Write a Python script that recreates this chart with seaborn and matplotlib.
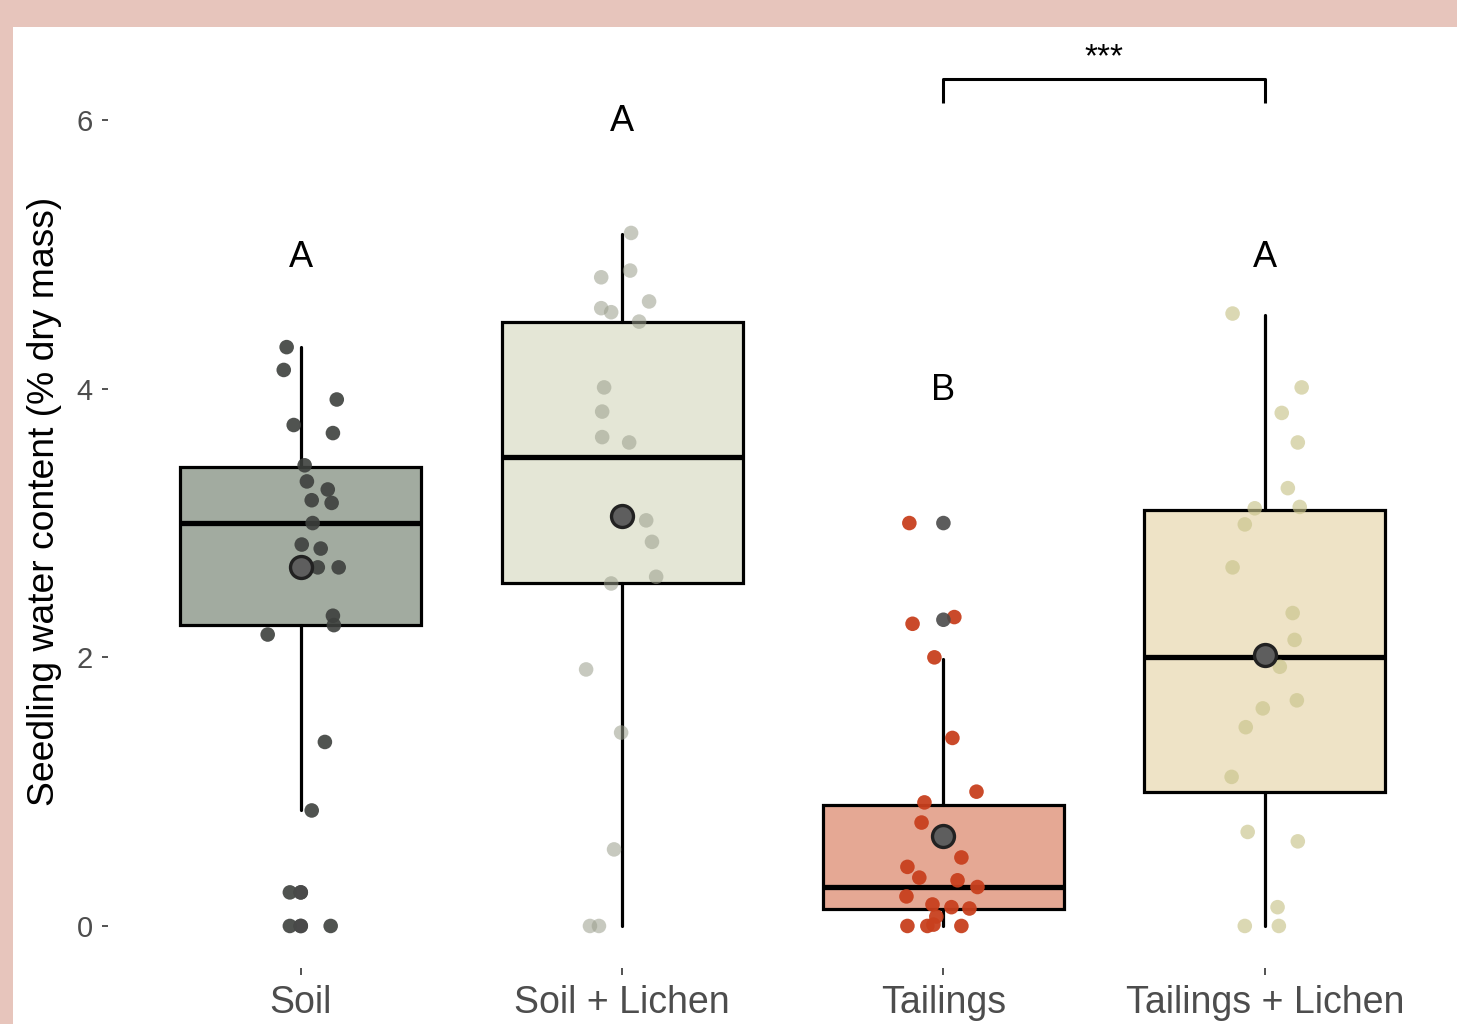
import numpy as np
import pandas as pd
import matplotlib
matplotlib.use("Agg")
import matplotlib.pyplot as plt
from matplotlib.patches import Rectangle
import seaborn as sns

# ---- data -------------------------------------------------------------
groups = ["Soil", "Soil + Lichen", "Tailings", "Tailings + Lichen"]

soil_vals = [4.31, 4.14, 3.92, 3.73, 3.67, 3.43, 3.31, 3.25, 3.17, 3.15, 3.00,
             2.84, 2.81, 2.67, 2.67, 2.67, 2.31, 2.24, 2.17, 1.37, 0.86,
             0.25, 0.25, 0.0, 0.0, 0.0]
soil_jit = [-0.044, -0.053, 0.112, -0.022, 0.100, 0.012, 0.019, 0.084, 0.034,
            0.096, 0.037, 0.003, 0.062, 0.053, 0.118, -0.003, 0.100, 0.103,
            -0.103, 0.075, 0.034, -0.034, 0.0, -0.034, 0.0, 0.093]

soil_lichen_vals = [5.16, 4.83, 4.88, 4.65, 4.60, 4.57, 4.50, 4.01, 3.83, 3.64,
                    3.60, 3.02, 2.86, 2.55, 2.60, 1.91, 1.44, 0.57, 0.0, 0.0]
soil_lichen_jit = [0.028, -0.065, 0.025, 0.084, -0.065, -0.034, 0.053, -0.056,
                   -0.062, -0.062, 0.022, 0.075, 0.093, -0.034, 0.106, -0.112,
                   -0.003, -0.025, -0.100, -0.072]

tailings_vals = [3.00, 2.25, 2.30, 2.00, 1.40, 1.00, 0.92, 0.77, 0.51, 0.44,
                 0.34, 0.36, 0.29, 0.22, 0.16, 0.14, 0.13, 0.07, 0.0, 0.0,
                 0.01, 0.0]
tailings_jit = [-0.106, -0.096, 0.034, -0.028, 0.028, 0.103, -0.059, -0.068,
                0.056, -0.112, 0.044, -0.075, 0.106, -0.115, -0.034, 0.025,
                0.081, -0.022, -0.112, -0.050, -0.031, 0.056]

tailings_lichen_vals = [4.56, 4.01, 3.82, 3.60, 3.26, 3.12, 3.11, 2.99, 2.67,
                        2.33, 2.13, 1.93, 1.68, 1.62, 1.48, 1.11, 0.70, 0.63,
                        0.14, 0.0, 0.0]
tailings_lichen_jit = [-0.100, 0.115, 0.053, 0.103, 0.072, 0.109, -0.031,
                       -0.062, -0.100, 0.087, 0.093, 0.047, 0.100, -0.006,
                       -0.059, -0.103, -0.053, 0.103, 0.040, -0.062, 0.044]

# boxplot outliers (drawn at the group centre)
outlier_group = ["Soil", "Soil", "Tailings", "Tailings"]
outlier_vals = [0.25, 0.0, 3.00, 2.28]

# box statistics per group
whisker_low = [0.86, 0.00, 0.00, 0.00]
q1 = [2.24, 2.55, 0.13, 1.00]
median = [3.00, 3.49, 0.29, 2.00]
q3 = [3.42, 4.50, 0.90, 3.10]
whisker_high = [4.31, 5.15, 1.99, 4.55]

group_means = [2.67, 3.05, 0.67, 2.02]

letters = ["A", "A", "B", "A"]
letter_heights = [4.98, 5.99, 3.99, 4.98]

comparison = ("Tailings", "Tailings + Lichen")
comparison_label = "***"
bracket_level = 6.31
bracket_drop = 0.18

# ---- styling ------------------------------------------------------------
box_fill = ["#a2aba0", "#e4e6d6", "#e5a894", "#eee3c6"]
point_color = ["#3d403d", "#9a9e8c", "#c8401e", "#c9c48a"]
point_alpha = [0.9, 0.55, 0.95, 0.65]

sns.set_theme(style="white")
plt.rcParams["font.family"] = ["Liberation Sans", "DejaVu Sans"]

fig = plt.figure(figsize=(14.57, 10.24), dpi=100, facecolor="#e7c5bc")
fig.patches.append(Rectangle((13 / 1457, 0), 1, 1 - 27 / 1024,
                             transform=fig.transFigure, facecolor="white",
                             edgecolor="none", zorder=-10))
ax = fig.add_axes([108 / 1457, 56 / 1024, 1349.5 / 1457, 933 / 1024])
ax.set_zorder(1)
ax.set_facecolor("none")

# boxes
stats = []
for i, g in enumerate(groups):
    stats.append(dict(med=median[i], q1=q1[i], q3=q3[i],
                      whislo=whisker_low[i], whishi=whisker_high[i],
                      fliers=[], label=g))
bp = ax.bxp(stats, positions=range(len(groups)), widths=0.75,
            showfliers=False, showcaps=False, patch_artist=True,
            boxprops=dict(linewidth=2.3, edgecolor="black"),
            whiskerprops=dict(linewidth=2.3, color="black"),
            medianprops=dict(linewidth=3.8, color="black"),
            manage_ticks=False, zorder=2)
for patch, c in zip(bp["boxes"], box_fill):
    patch.set_facecolor(c)

# jittered observations
vals_by_group = [soil_vals, soil_lichen_vals, tailings_vals, tailings_lichen_vals]
jit_by_group = [soil_jit, soil_lichen_jit, tailings_jit, tailings_lichen_jit]
for i, g in enumerate(groups):
    df = pd.DataFrame({"x": i + np.asarray(jit_by_group[i]),
                       "y": vals_by_group[i]})
    sns.scatterplot(data=df, x="x", y="y", ax=ax, color=point_color[i],
                    alpha=point_alpha[i], s=110, edgecolor="none",
                    zorder=3, legend=False)

# outliers
out_df = pd.DataFrame({"x": [groups.index(g) for g in outlier_group],
                       "y": outlier_vals})
sns.scatterplot(data=out_df, x="x", y="y", ax=ax, color="#4a4a4a",
                alpha=0.9, s=110, edgecolor="none", zorder=4, legend=False)

# group means
mean_df = pd.DataFrame({"x": range(len(groups)), "y": group_means})
sns.scatterplot(data=mean_df, x="x", y="y", ax=ax, color="#5e5e5e",
                s=250, edgecolor="#222222", linewidth=2.4, zorder=5,
                legend=False)

# compact letter display
for i, (lab, h) in enumerate(zip(letters, letter_heights)):
    ax.text(i, h, lab, ha="center", va="center", fontsize=26, color="black")

# significance bracket
xa, xb = groups.index(comparison[0]), groups.index(comparison[1])
ax.plot([xa, xa, xb, xb],
        [bracket_level - bracket_drop, bracket_level, bracket_level,
         bracket_level - bracket_drop],
        color="black", linewidth=2.2, solid_capstyle="butt", zorder=3)
ax.text((xa + xb) / 2, bracket_level + 0.09, comparison_label,
        ha="center", va="baseline", fontsize=24, color="black")

# axes
ax.set_xlim(-0.6, 3.6)
ax.set_ylim(-0.313, 6.634)
ax.set_xticks(range(len(groups)))
ax.set_xticklabels(groups)
ax.set_yticks([0, 2, 4, 6])
ax.set_yticklabels(["0", "2", "4", "6"])
for s in ax.spines.values():
    s.set_visible(False)
ax.tick_params(axis="y", length=4, width=1.3, color="#444444",
               labelcolor="#4d4d4d", labelsize=21, pad=7, left=True)
ax.tick_params(axis="x", length=5, width=1.3, color="#444444",
               labelcolor="#4d4d4d", labelsize=27, pad=7, bottom=True)
ax.set_xlabel("")
ax.set_ylabel("Seedling water content (% dry mass)", fontsize=26.8,
              color="black")
ax.yaxis.set_label_coords(-0.034, 0.5)
ax.grid(False)

fig.savefig("out.png", dpi=100, facecolor=fig.get_facecolor())
